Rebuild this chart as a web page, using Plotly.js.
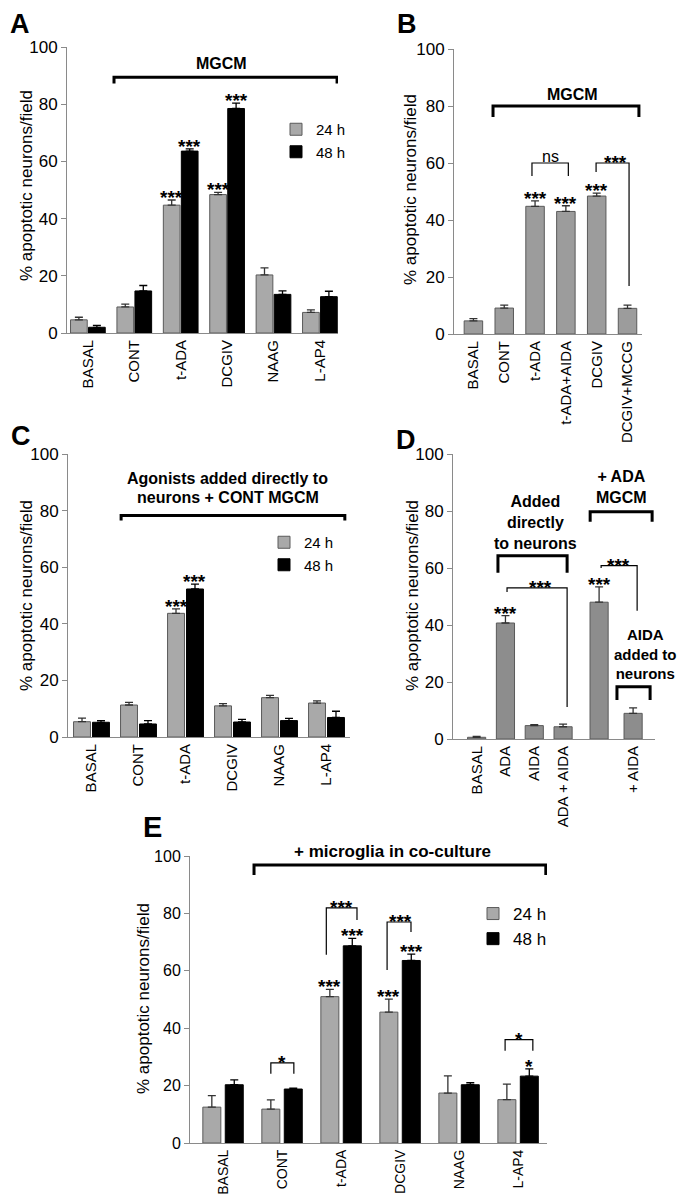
<!DOCTYPE html>
<html>
<head>
<meta charset="utf-8">
<script src="https://cdn.plot.ly/plotly-3.0.1.min.js"></script>
<style>
html,body{margin:0;padding:0;background:#fff;}
#chart{width:681px;height:1199px;}
</style>
</head>
<body>
<div id="chart"></div>
<script>
// ---------------- DATA ----------------
const catsA = ['BASAL', 'CONT', 't-ADA', 'DCGIV', 'NAAG', 'L-AP4'];
const a24 = [4.6, 9.1, 44.7, 48.4, 20.3, 7.2];
const a24err = [0.9, 1.0, 1.8, 0.8, 2.5, 0.9];
const a48 = [2.0, 14.7, 63.6, 78.5, 13.5, 12.7];
const a48err = [0.7, 1.9, 0.8, 1.9, 1.2, 1.9];
const sigA24 = ['', '', '***', '***', '', ''];
const sigA48 = ['', '', '***', '***', '', ''];

const catsB = ['BASAL', 'CONT', 't-ADA', 't-ADA+AIDA', 'DCGIV', 'DCGIV+MCCG'];
const bVals = [4.6, 9.1, 44.8, 43.0, 48.4, 9.0];
const bErr = [0.8, 1.0, 1.9, 2.0, 1.0, 1.1];
const sigB = ['', '', '***', '***', '***', ''];

const catsC = ['BASAL', 'CONT', 't-ADA', 'DCGIV', 'NAAG', 'L-AP4'];
const c24 = [5.4, 11.3, 43.7, 11.0, 13.9, 12.0];
const c24err = [1.3, 0.9, 1.6, 0.8, 0.8, 0.8];
const c48 = [5.2, 4.6, 52.3, 5.3, 5.8, 6.9];
const c48err = [0.6, 1.2, 1.7, 0.9, 0.8, 2.2];
const sigC24 = ['', '', '***', '', '', ''];
const sigC48 = ['', '', '***', '', '', ''];

const catsD = ['BASAL', 'ADA', 'AIDA', 'ADA + AIDA', '', '+ AIDA'];
const dVals = [0.6, 40.7, 4.7, 4.3, 48.0, 9.0];
const dErr = [0.3, 2.6, 0.3, 0.9, 5.4, 1.9];
const sigD = ['', '***', '', '', '***', ''];

const catsE = ['BASAL', 'CONT', 't-ADA', 'DCGIV', 'NAAG', 'L-AP4'];
const e24 = [12.5, 11.8, 51.0, 45.6, 17.4, 15.1];
const e24err = [4.0, 3.2, 2.5, 4.5, 6.0, 5.4];
const e48 = [20.3, 18.8, 68.7, 63.6, 20.3, 23.3];
const e48err = [1.7, 0.3, 2.6, 2.2, 0.7, 2.5];
const sigE24 = ['', '', '***', '***', '', ''];
const sigE48 = ['', '', '***', '***', '', '*'];

const seriesNames = ['24 h', '48 h'];
const yTitle = '% apoptotic neurons/field';

// ---------------- LAYOUT HELPERS ----------------
const W = 681, H = 1199;
const FONT = 'Liberation Sans, Arial, Helvetica, sans-serif';
const GRAY = '#a9a9a9', GRAY_B = '#9c9c9c', GRAY_D = '#8d8d8d';
const idx = arr => arr.map((_, i) => i);
const zeros = arr => arr.map(() => 0);
const xd = (a, b) => [a / W, b / W];
const yd = (top, bottom) => [1 - bottom / H, 1 - top / H];
// D bars are placed with a gap before the MGCM group
const posD = [0, 1, 2, 3, 4.25, 5.43];

function errY(errs, color) {
  return {type: 'data', symmetric: false, array: errs, arrayminus: zeros(errs),
          color: color, thickness: 1.3, width: 4};
}
function grayBar(x, y, err, xa, ya, width, offset, legend, show, color) {
  return {type: 'bar', x: x, y: y, name: seriesNames[0], xaxis: xa, yaxis: ya,
    width: width, offset: offset, legend: legend, showlegend: show,
    marker: {color: color || GRAY, line: {color: '#5a5a5a', width: 1}},
    error_y: errY(err, '#333'), hoverinfo: 'none'};
}
function blackBar(x, y, err, xa, ya, width, offset, legend, show) {
  return {type: 'bar', x: x, y: y, name: seriesNames[1], xaxis: xa, yaxis: ya,
    width: width, offset: offset, legend: legend, showlegend: show,
    marker: {color: '#000', line: {color: '#000', width: 1}},
    error_y: errY(err, '#000'), hoverinfo: 'none'};
}

const traces = [
  grayBar(idx(catsA), a24, a24err, 'x', 'y', 0.36, -0.374, 'legend', true),
  blackBar(idx(catsA), a48, a48err, 'x', 'y', 0.36, 0.014, 'legend', true),
  grayBar(idx(catsB), bVals, bErr, 'x2', 'y2', 0.6, -0.3, 'legend', false, GRAY_B),
  grayBar(idx(catsC), c24, c24err, 'x3', 'y3', 0.36, -0.382, 'legend2', true),
  blackBar(idx(catsC), c48, c48err, 'x3', 'y3', 0.36, 0.022, 'legend2', true),
  grayBar(posD, dVals, dErr, 'x4', 'y4', 0.63, -0.315, 'legend', false, GRAY_D),
  grayBar(idx(catsE), e24, e24err, 'x5', 'y5', 0.305, -0.3425, 'legend3', true),
  blackBar(idx(catsE), e48, e48err, 'x5', 'y5', 0.305, 0.0375, 'legend3', true)
];

function xAxis(dom, range, vals, text, fs, anchor) {
  return {domain: dom, anchor: anchor, range: range, tickvals: vals, ticktext: text, tickangle: -90,
    showline: true, linecolor: '#8a8a8a', linewidth: 1, ticks: '', showgrid: false,
    zeroline: false, tickfont: {size: fs, color: '#000'}, fixedrange: true};
}
function yAxis(dom, anchor, fs) {
  return {domain: dom, anchor: anchor, range: [0, 100], dtick: 20, tick0: 0,
    showline: true, linecolor: '#8a8a8a', linewidth: 1, ticks: 'outside', ticklen: 5,
    tickcolor: '#8a8a8a', showgrid: false, zeroline: false,
    tickfont: {size: fs, color: '#000'}, fixedrange: true};
}

const STAR = {size: 19, color: '#000', family: FONT};
// significance stars over bars (from data)
function barStars(xa, ya, sig, xs, vals, errs, dx) {
  const out = [];
  sig.forEach((s, i) => {
    if (s) out.push({xref: xa, yref: ya, x: xs[i] + dx, y: vals[i] + errs[i], text: '<b>' + s + '</b>',
      showarrow: false, yanchor: 'bottom', yshift: -10, font: STAR});
  });
  return out;
}
function compStars(xa, ya, x, y, s) {
  return {xref: xa, yref: ya, x: x, y: y, text: '<b>' + s + '</b>', showarrow: false,
    yanchor: 'bottom', yshift: -12, font: STAR};
}
function label(xa, ya, x, y, text, size, bold, anchor, yshift) {
  return {xref: xa, yref: ya, x: x, y: y, text: bold ? '<b>' + text + '</b>' : text,
    showarrow: false, yanchor: anchor || 'middle', xanchor: 'center', yshift: yshift || 0,
    font: {size: size, color: '#000'}};
}
function bracket(xa, ya, x0, x1, y, y0, y1, w) {
  return {type: 'path', xref: xa, yref: ya, layer: 'above',
    path: `M${x0},${y0} L${x0},${y} L${x1},${y} L${x1},${y1}`,
    line: {color: '#000', width: w}};
}
function panelLetter(t, px, py, size) {
  return {xref: 'paper', yref: 'paper', x: px / W, y: 1 - py / H, text: '<b>' + t + '</b>',
    showarrow: false, xanchor: 'center', yanchor: 'middle', font: {size: size, color: '#000'}};
}
function axisTitle(px, py, size) {
  return {xref: 'paper', yref: 'paper', x: px / W, y: 1 - py / H, text: yTitle, textangle: -90,
    showarrow: false, xanchor: 'center', yanchor: 'middle', font: {size: size, color: '#000'}};
}

const annotations = [
  panelLetter('A', 20, 24, 27), panelLetter('B', 407, 24, 27), panelLetter('C', 21, 436, 27),
  panelLetter('D', 406, 440, 27), panelLetter('E', 152, 827, 29),
  axisTitle(27, 186, 17), axisTitle(410, 190, 17), axisTitle(26, 596, 17),
  axisTitle(412, 596, 17), axisTitle(143, 999, 17),
  // A
  ...barStars('x', 'y', sigA24, idx(catsA), a24, a24err, -0.194),
  ...barStars('x', 'y', sigA48, idx(catsA), a48, a48err, 0.194),
  label('x', 'y', 2.89, 94.4, 'MGCM', 16, true),
  // B
  ...barStars('x2', 'y2', sigB, idx(catsB), bVals, bErr, 0),
  label('x2', 'y2', 3.2, 84.2, 'MGCM', 16, true),
  label('x2', 'y2', 2.49, 60, 'ns', 16, false, 'bottom', -4),
  compStars('x2', 'y2', 4.6, 60, '***'),
  // C
  ...barStars('x3', 'y3', sigC24, idx(catsC), c24, c24err, -0.202),
  ...barStars('x3', 'y3', sigC48, idx(catsC), c48, c48err, 0.202),
  label('x3', 'y3', 2.9, 91.2, 'Agonists added directly to', 16, true),
  label('x3', 'y3', 2.9, 84.8, 'neurons + CONT MGCM', 16, true),
  // D
  ...barStars('x4', 'y4', sigD, posD, dVals, dErr, 0),
  label('x4', 'y4', 2.03, 75.9, 'Added<br>directly<br>to neurons', 16, true),
  label('x4', 'y4', 5.01, 88.3, '+ ADA<br>MGCM', 16, true),
  label('x4', 'y4', 5.85, 29.9, 'AIDA<br>added to<br>neurons', 15, true),
  compStars('x4', 'y4', 2.2, 53.0, '***'),
  compStars('x4', 'y4', 4.91, 60.8, '***'),
  // E
  ...barStars('x5', 'y5', sigE24, idx(catsE), e24, e24err, -0.19),
  ...barStars('x5', 'y5', sigE48, idx(catsE), e48, e48err, 0.19),
  {xref: 'x5', yref: 'y5 domain', x: 2.88, y: 1.014, text: '<b>+ microglia in co-culture</b>',
   showarrow: false, xanchor: 'center', yanchor: 'middle', font: {size: 17, color: '#000'}},
  compStars('x5', 'y5', 1.0, 27.9, '*'),
  compStars('x5', 'y5', 2.0, 81.9, '***'),
  compStars('x5', 'y5', 3.0, 77.0, '***'),
  compStars('x5', 'y5', 5.02, 36.0, '*')
];

const shapes = [
  // A
  bracket('x', 'y', 0.563, 5.37, 89.4, 87.2, 87.2, 3),
  // B
  bracket('x2', 'y2', 0.636, 5.37, 80.0, 76.1, 76.1, 3),
  bracket('x2', 'y2', 1.9, 3.08, 60, 55.4, 55.4, 1.2),
  bracket('x2', 'y2', 3.98, 5.05, 60, 56.8, 16.8, 1.2),
  // C
  bracket('x3', 'y3', 0.63, 5.39, 78.3, 76.5, 76.5, 3),
  // D
  bracket('x4', 'y4', 0.74, 3.14, 64.3, 58.3, 58.3, 3),
  bracket('x4', 'y4', 3.94, 6.09, 79.7, 76.2, 76.2, 3),
  bracket('x4', 'y4', 4.87, 6.02, 18.3, 13.7, 13.7, 3),
  bracket('x4', 'y4', 1.055, 3.14, 53.0, 51.6, 11.2, 1.2),
  bracket('x4', 'y4', 4.32, 5.57, 60.8, 60.0, 45.0, 1.2),
  // E
  bracket('x5', 'y5', 0.525, 5.47, 96.9, 93.4, 93.4, 3),
  bracket('x5', 'y5', 0.81, 1.2, 27.9, 24.1, 24.1, 1.2),
  bracket('x5', 'y5', 1.75, 2.27, 81.9, 65.6, 77.7, 1.2),
  bracket('x5', 'y5', 2.78, 3.185, 77.0, 60.3, 73.5, 1.2),
  bracket('x5', 'y5', 4.78, 5.25, 36.0, 32.1, 32.1, 1.2)
];

function legendAt(px, py, fs) {
  return {x: px / W, y: 1 - py / H, xanchor: 'left', yanchor: 'top',
    bgcolor: 'rgba(0,0,0,0)', borderwidth: 0, font: {size: fs, color: '#000'},
    itemclick: false, itemdoubleclick: false, tracegroupgap: 0, itemwidth: 30};
}

const layout = {
  width: W, height: H,
  margin: {l: 0, r: 0, t: 0, b: 0},
  paper_bgcolor: '#fff', plot_bgcolor: 'rgba(0,0,0,0)',
  font: {family: FONT, color: '#000'},
  barmode: 'group',
  showlegend: true,
  xaxis:  xAxis(xd(67, 338), [-0.45, 5.39], idx(catsA), catsA, 15, 'y'),
  yaxis:  yAxis(yd(47, 333), 'x', 17),
  xaxis2: xAxis(xd(454, 642), [-0.63, 5.47], idx(catsB), catsB, 15, 'y2'),
  yaxis2: yAxis(yd(49, 334), 'x2', 17),
  xaxis3: xAxis(xd(68, 350), [-0.5, 5.5], idx(catsC), catsC, 15, 'y3'),
  yaxis3: yAxis(yd(454, 737), 'x3', 17),
  xaxis4: xAxis(xd(453, 655), [-0.82, 6.19], posD, catsD, 15, 'y4'),
  yaxis4: yAxis(yd(454, 739), 'x4', 17),
  xaxis5: xAxis(xd(190, 547), [-0.56, 5.49], idx(catsE), catsE, 14, 'y5'),
  yaxis5: yAxis(yd(856, 1143), 'x5', 16),
  legend:  legendAt(276, 113, 15),
  legend2: legendAt(264, 526, 15),
  legend3: legendAt(473, 896, 17),
  annotations: annotations,
  shapes: shapes
};

Plotly.newPlot('chart', traces, layout, {staticPlot: true, displayModeBar: false});
</script>
</body>
</html>
